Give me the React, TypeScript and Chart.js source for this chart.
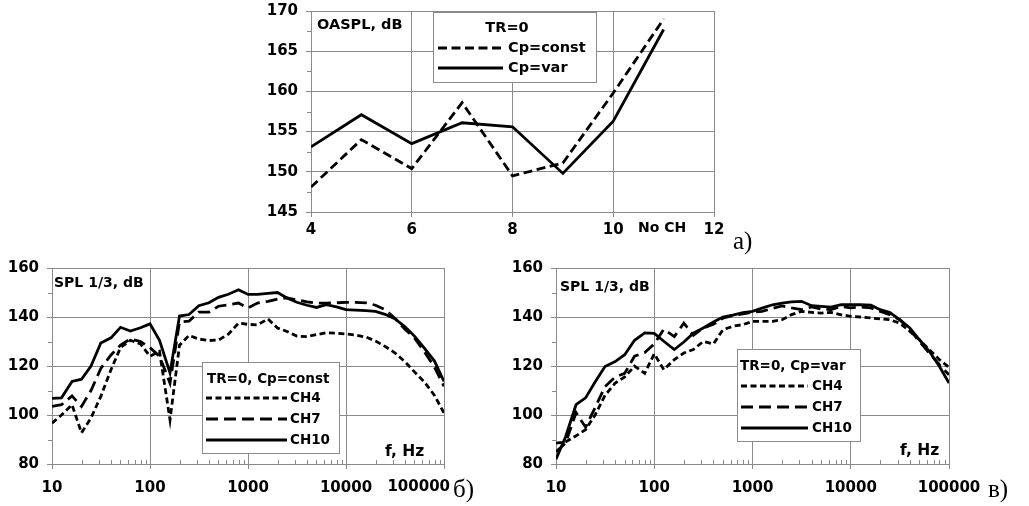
import { useEffect, useRef } from 'react';
import { Chart, registerables } from 'chart.js';

Chart.register(...registerables);

const W = 1029;
const H = 506;
const FONT = 'DejaVu Sans';
const GRID = '#8a8a8a';

// ---------- data: panel a) ----------
const noCh = [4, 5, 6, 7, 8, 9, 10, 11];
const oasplCpConst = [148.1, 154, 150.4, 158.6, 149.5, 151.1, 159.8, 169];
const oasplCpVar = [153.1, 157.1, 153.5, 156.1, 155.6, 149.8, 156.3, 167.7];
const topXTicks = [4, 6, 8, 10, 12];
const topYTicks = [145, 150, 155, 160, 165, 170];

// ---------- data: panels б) and в) ----------
const freqs = [10, 12.5, 16, 20, 25, 31.5, 40, 50, 63, 80, 100, 125, 160, 200, 250, 315, 400, 500, 630, 800,
  1000, 1250, 1600, 2000, 2500, 3150, 4000, 5000, 6300, 8000, 10000, 12500, 16000, 20000, 25000, 31500, 40000,
  50000, 63000, 80000, 100000];
const decades = [10, 100, 1000, 10000, 100000];
const splYTicks = [80, 100, 120, 140, 160];

// б) TR=0, Cp=const
const constCH4 = [96.7, 100, 104.2, 92.7, 98.8, 107.6, 118.5, 127.5, 130.5, 129,
  124, 126, 98, 128.5, 132.5, 131, 130.4, 130.6, 133, 137.5,
  137, 136.8, 139.2, 135.5, 134.1, 132.2, 132, 132.8, 133.6, 133.4,
  133.1, 132.6, 131.8, 130.2, 128, 125.4, 121.7, 117.6, 113.5, 108, 100.8];
const constCH7 = [103.5, 104.2, 107.8, 103.5, 110, 119, 124.5, 128.5, 131, 130,
  127.5, 124, 113, 138, 138.3, 142, 142, 144.4, 145, 145.7,
  143.7, 145.7, 146.4, 147.3, 147.8, 147, 146.2, 145.7, 145.7, 145.8,
  146, 146, 145.8, 144.8, 143, 139.5, 135, 131.5, 125.8, 119.5, 111.7];
const constCH10 = [106.8, 107, 113.7, 114.6, 120, 129.4, 131.5, 135.8, 134.3, 135.6,
  137.2, 130.5, 117.2, 140.4, 141, 144.6, 145.8, 148, 149.3, 151.1,
  149.2, 149.2, 149.6, 150, 147.8, 146, 144.8, 143.9, 145, 144.1,
  143, 142.8, 142.6, 142.3, 141.1, 139.3, 136, 132.2, 127.3, 122, 113.7];

// в) TR=0, Cp=var
const varCH4 = [88.5, 89, 91.5, 94, 100, 108, 113, 115.5, 120, 117,
  125, 118.5, 122.6, 125.3, 126.7, 130, 129, 134.8, 136.2, 136.9,
  138.2, 138.2, 138.2, 138.9, 141, 142.3, 141.9, 141.6, 141.9, 140.9,
  140.3, 140, 139.6, 139.2, 138.9, 137.5, 134.1, 130.7, 126.7, 122.6, 119.5];
const varCH7 = [85, 88.5, 101, 95, 103, 111.6, 115.5, 117, 124, 125.5,
  129, 135, 132, 137.5, 132.5, 135.5, 137, 139.5, 140.6, 141.3,
  142, 142.3, 143.5, 144.5, 143.7, 143, 144.1, 143.3, 143, 144.3,
  143.7, 144.1, 143.7, 142.3, 140.9, 138.9, 134.8, 130, 125.3, 120.5, 116.4];
const varCH10 = [82, 91, 104.2, 107, 113.5, 119.8, 121.8, 124.6, 130.5, 133.5,
  133.3, 130.1, 126.7, 129.8, 133.4, 135.5, 138, 140, 140.8, 141.8,
  142.3, 143.6, 145, 145.7, 146.2, 146.4, 144.6, 144.3, 144, 145,
  145, 145, 144.8, 143, 141.8, 138.9, 135.5, 130.7, 126, 119.8, 113];

// ---------- helpers ----------
const pts = (xs: number[], ys: number[]) => xs.map((x, i) => ({ x, y: ys[i] }));
const logMinor = decades.slice(0, -1).flatMap((d) => [2, 3, 4, 5, 6, 7, 8, 9].map((k) => k * d));

const lineDs = (label: string, data: any[], dash: number[]) => ({
  label,
  data,
  borderColor: '#000',
  backgroundColor: '#000',
  borderWidth: 2.8,
  borderDash: dash,
  pointRadius: 0,
  tension: 0,
  fill: false,
});

const decor = {
  id: 'decor',
  afterDatasetsDraw(chart: any, _args: any, opts: any) {
    const { ctx, chartArea: a, scales } = chart;
    const xs = scales.x;
    const ys = scales.y;
    ctx.save();
    ctx.strokeStyle = GRID;
    ctx.lineWidth = 1;
    (opts.yMinor || []).forEach((v: number) => {
      const py = Math.round(ys.getPixelForValue(v)) + 0.5;
      ctx.beginPath();
      ctx.moveTo(a.left - 4, py);
      ctx.lineTo(a.left, py);
      ctx.stroke();
    });
    (opts.xMinor || []).forEach((v: number) => {
      const px = Math.round(xs.getPixelForValue(v)) + 0.5;
      ctx.beginPath();
      ctx.moveTo(px, a.bottom);
      ctx.lineTo(px, a.bottom - 4);
      ctx.stroke();
    });
    const lg = opts.legend;
    if (lg) {
      const [bx, by, bw, bh] = lg.box;
      ctx.fillStyle = '#fff';
      ctx.fillRect(bx, by, bw, bh);
      ctx.strokeStyle = GRID;
      ctx.strokeRect(bx + 0.5, by + 0.5, bw, bh);
      ctx.fillStyle = '#000';
      ctx.font = `bold ${lg.size}px "${FONT}"`;
      ctx.textBaseline = 'middle';
      ctx.textAlign = lg.titleAlign;
      ctx.fillText(lg.title, lg.titlePos[0], lg.titlePos[1]);
      ctx.textAlign = 'left';
      chart.data.datasets.forEach((ds: any, i: number) => {
        const ey = lg.rows[i];
        ctx.save();
        ctx.strokeStyle = ds.borderColor;
        ctx.lineWidth = ds.borderWidth;
        ctx.setLineDash(ds.borderDash || []);
        ctx.beginPath();
        ctx.moveTo(lg.line[0], ey);
        ctx.lineTo(lg.line[1], ey);
        ctx.stroke();
        ctx.restore();
        ctx.fillText(ds.label, lg.textX, ey);
      });
    }
    (opts.texts || []).forEach((t: any) => {
      ctx.font = t.font;
      ctx.fillStyle = '#000';
      ctx.textAlign = t.align || 'left';
      ctx.textBaseline = t.baseline || 'middle';
      ctx.fillText(t.text, t.x, t.y);
    });
    ctx.restore();
  },
};

const TICK_SIZE = 15;
const tickFont = (size: number) => ({ family: FONT, size, weight: 'bold' as const });
const bold = (size: number) => `bold ${size}px "${FONT}"`;
const serif = '25px "Liberation Serif"';

function baseOptions(padding: any, xScale: any, yScale: any, decorOpts: any) {
  return {
    animation: false,
    responsive: false,
    maintainAspectRatio: false,
    events: [],
    layout: { padding },
    plugins: { legend: { display: false }, tooltip: { enabled: false }, decor: decorOpts },
    scales: { x: xScale, y: yScale },
  };
}

function yAxis(min: number, max: number, ticksList: number[]) {
  return {
    type: 'linear',
    min,
    max,
    afterBuildTicks: (s: any) => {
      s.ticks = ticksList.map((v) => ({ value: v }));
    },
    ticks: { font: tickFont(TICK_SIZE), color: '#000', padding: 8 },
    grid: { color: GRID, tickLength: 5, lineWidth: 1 },
    border: { color: GRID, width: 1 },
    afterFit: (s: any) => {
      s.width = 50;
      s.paddingTop = 0;
      s.paddingBottom = 0;
    },
  };
}

function makeTop() {
  return {
    type: 'line',
    data: {
      datasets: [
        lineDs('Cp=const', pts(noCh, oasplCpConst), [9, 4.5]),
        lineDs('Cp=var', pts(noCh, oasplCpVar), []),
      ],
    },
    options: baseOptions(
      { left: 261, right: 315, top: 11, bottom: 254 },
      {
        type: 'linear',
        min: 4,
        max: 12,
        afterBuildTicks: (s: any) => {
          s.ticks = topXTicks.map((v) => ({ value: v }));
        },
        ticks: { font: tickFont(TICK_SIZE), color: '#000', padding: 4, maxRotation: 0, autoSkip: false },
        grid: { color: GRID, tickLength: 5, lineWidth: 1 },
        border: { color: GRID, width: 1 },
        afterFit: (s: any) => {
          s.height = 40;
          s.paddingLeft = 0;
          s.paddingRight = 0;
        },
      },
      yAxis(145, 170, topYTicks),
      {
        yMinor: [147.5, 152.5, 157.5, 162.5, 167.5],
        legend: {
          box: [433, 12, 163, 70],
          size: 14.5,
          title: 'TR=0',
          titleAlign: 'center',
          titlePos: [507, 28],
          rows: [48, 68],
          line: [438, 503],
          textX: 508,
        },
        texts: [
          { text: 'OASPL, dB', x: 317, y: 25, font: bold(14.5) },
          { text: 'No CH', x: 638, y: 228, font: bold(14) },
          { text: 'а)', x: 733, y: 249, font: serif, baseline: 'alphabetic' },
        ],
      }
    ),
    plugins: [decor],
  };
}

function makeSpl(left: boolean) {
  const d4 = left ? constCH4 : varCH4;
  const d7 = left ? constCH7 : varCH7;
  const d10 = left ? constCH10 : varCH10;
  const padding = left
    ? { left: 2, right: 585, top: 268, bottom: 12 }
    : { left: 506, right: 80, top: 268, bottom: 12 };
  const legend = left
    ? {
        box: [202, 362, 137, 91],
        size: 13.5,
        title: 'TR=0, Cp=const',
        titleAlign: 'left',
        titlePos: [207, 379],
        rows: [398, 419, 440],
        line: [206, 287],
        textX: 290,
      }
    : {
        box: [737, 349, 123, 92],
        size: 13.5,
        title: 'TR=0, Cp=var',
        titleAlign: 'left',
        titlePos: [740, 366],
        rows: [386, 407, 428],
        line: [741, 808],
        textX: 812,
      };
  const lastDecade = decades[decades.length - 1];
  const texts = left
    ? [
        { text: 'SPL 1/3, dB', x: 54, y: 283, font: bold(14) },
        { text: 'f, Hz', x: 385, y: 452, font: bold(15.5) },
        // last tick label of this panel sits left of its tick, to leave room for "б)"
        { text: String(lastDecade), x: 450, y: 487.5, font: bold(TICK_SIZE), align: 'right' },
        { text: 'б)', x: 453, y: 497, font: serif, baseline: 'alphabetic' },
      ]
    : [
        { text: 'SPL 1/3, dB', x: 560, y: 287, font: bold(14) },
        { text: 'f, Hz', x: 900, y: 451, font: bold(15.5) },
        { text: 'в)', x: 988, y: 497, font: serif, baseline: 'alphabetic' },
      ];
  return {
    type: 'line',
    data: {
      datasets: [
        lineDs('CH4', pts(freqs, d4), [6, 3.5]),
        lineDs('CH7', pts(freqs, d7), [12, 6]),
        lineDs('CH10', pts(freqs, d10), []),
      ],
    },
    options: baseOptions(
      padding,
      {
        type: 'logarithmic',
        min: 10,
        max: 100000,
        afterBuildTicks: (s: any) => {
          s.ticks = decades.map((v) => ({ value: v }));
        },
        ticks: {
          font: tickFont(TICK_SIZE),
          color: '#000',
          padding: 10,
          maxRotation: 0,
          autoSkip: false,
          callback: (v: any) => (left && v === lastDecade ? '' : String(v)),
        },
        grid: { color: GRID, tickLength: 5, lineWidth: 1 },
        border: { color: GRID, width: 1 },
        afterFit: (s: any) => {
          s.height = 30;
          s.paddingLeft = 0;
          s.paddingRight = 0;
        },
      },
      yAxis(80, 160, splYTicks),
      { yMinor: [90, 110, 130, 150], xMinor: logMinor, legend, texts }
    ),
    plugins: [decor],
  };
}

function ChartLayer({ make }: { make: () => any }) {
  const ref = useRef<HTMLCanvasElement>(null);
  useEffect(() => {
    const chart = new Chart(ref.current as HTMLCanvasElement, make());
    return () => chart.destroy();
  }, []);
  return (
    <canvas
      ref={ref}
      width={W}
      height={H}
      style={{ position: 'absolute', left: 0, top: 0, width: W, height: H, display: 'block' }}
    />
  );
}

export default function App() {
  return (
    <div style={{ position: 'absolute', left: 0, top: 0, width: W, height: H, background: '#fff', overflow: 'hidden' }}>
      <ChartLayer make={makeTop} />
      <ChartLayer make={() => makeSpl(true)} />
      <ChartLayer make={() => makeSpl(false)} />
    </div>
  );
}
